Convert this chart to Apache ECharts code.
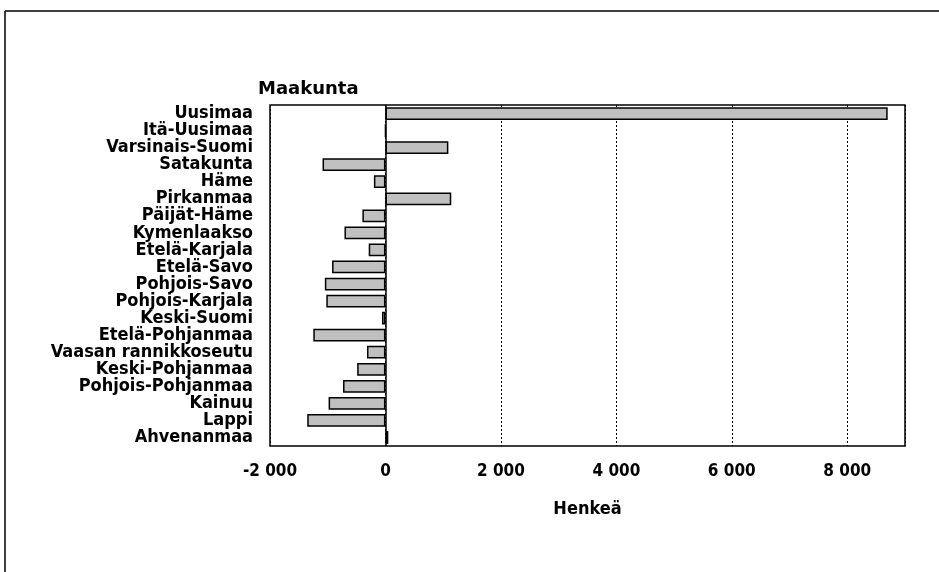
<!DOCTYPE html>
<html>
<head>
<meta charset="utf-8">
<script src="https://cdn.jsdelivr.net/npm/echarts@6/dist/echarts.min.js"></script>
<style>html,body{margin:0;padding:0;background:#fff;}#c{width:939px;height:572px;}</style>
</head>
<body>
<div id="c"></div>
<script>
const categories = ["Uusimaa","Itä-Uusimaa","Varsinais-Suomi","Satakunta","Häme","Pirkanmaa","Päijät-Häme","Kymenlaakso","Etelä-Karjala","Etelä-Savo","Pohjois-Savo","Pohjois-Karjala","Keski-Suomi","Etelä-Pohjanmaa","Vaasan rannikkoseutu","Keski-Pohjanmaa","Pohjois-Pohjanmaa","Kainuu","Lappi","Ahvenanmaa"];
const values = [8700, 0, 1090, -1090, -200, 1140, -400, -710, -290, -925, -1050, -1025, -60, -1250, -320, -490, -735, -985, -1355, 50];
const xTicks = [-2000, 0, 2000, 4000, 6000, 8000];

const FONT = "'DejaVu Sans Condensed','Liberation Sans Narrow',sans-serif";
const FONT2 = "'DejaVu Sans',sans-serif";
const chart = echarts.init(document.getElementById('c'), null, {renderer: 'canvas'});
chart.setOption({
  animation: false,
  backgroundColor: '#fff',
  grid: {left: 270, right: 34, top: 105, bottom: 126, show: true, borderColor: '#000', borderWidth: 1.5, backgroundColor: 'transparent'},
  graphic: [
    {type: 'line', shape: {x1: 5, y1: 11, x2: 939, y2: 11}, style: {stroke: '#000', lineWidth: 1.5}},
    {type: 'line', shape: {x1: 5, y1: 11, x2: 5, y2: 572}, style: {stroke: '#000', lineWidth: 1.5}},
    {type: 'text', left: 258, top: 80, style: {text: 'Maakunta', font: 'bold 18px ' + FONT2, fill: '#000'}}
  ],
  xAxis: {
    type: 'value', min: -2000, max: 9000, interval: 2000,
    name: 'Henkeä', nameLocation: 'middle', nameGap: 54,
    nameTextStyle: {fontFamily: FONT, fontWeight: 'bold', fontSize: 18, color: '#000'},
    axisLine: {show: false}, axisTick: {show: false},
    axisLabel: {fontFamily: FONT, fontWeight: 'bold', fontSize: 17, color: '#000', margin: 17,
      showMaxLabel: false,
      formatter: v => xTicks.indexOf(v) < 0 ? '' : (v < 0 ? '-' : '') + Math.abs(v).toString().replace(/\B(?=(\d{3})+(?!\d))/g, ' ')},
    splitLine: {show: true, lineStyle: {color: '#000', type: [2, 2], width: 1}}
  },
  yAxis: {
    type: 'category', data: categories, inverse: true,
    axisLine: {show: false, onZero: false}, axisTick: {show: false},
    axisLabel: {interval: 0, fontFamily: FONT, fontWeight: 'bold', fontSize: 18, color: '#000', margin: 17, lineHeight: 17},
    splitLine: {show: false}
  },
  series: [{
    type: 'bar', data: values, barCategoryGap: '25%',
    itemStyle: {color: '#c0c0c0', borderColor: '#000', borderWidth: 1.5},
    markLine: {silent: true, symbol: 'none', label: {show: false},
      lineStyle: {color: '#000', type: 'solid', width: 1.5},
      data: [{xAxis: 0}]}
  }]
});
</script>
</body>
</html>
